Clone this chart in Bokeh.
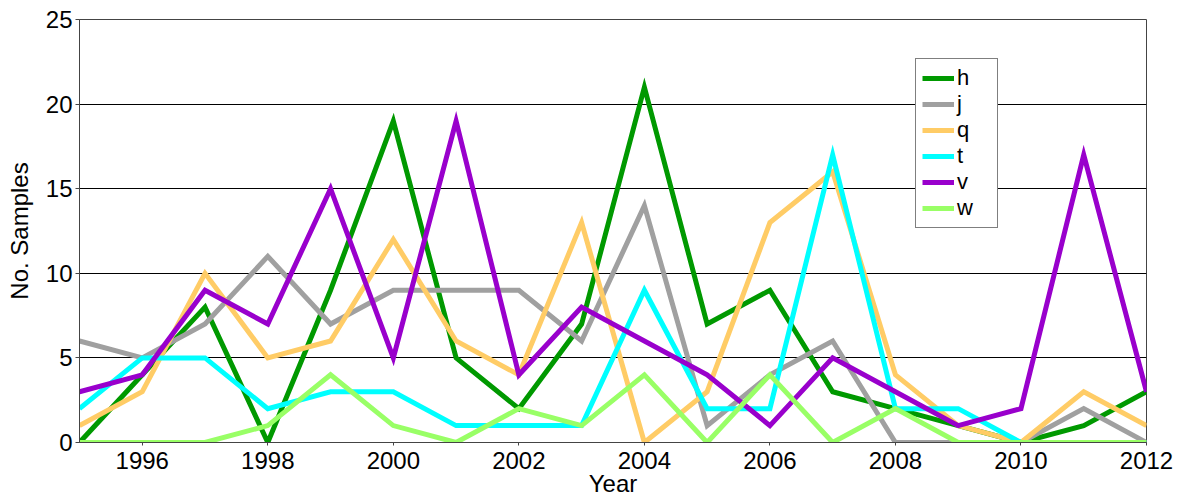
from bokeh.plotting import figure
from bokeh.models import Range1d, SingleIntervalTicker, Legend, LegendItem
from bokeh.embed import file_html
from bokeh.resources import INLINE

years = list(range(1995, 2013))
h = [0, 4, 8, 0, 9, 19, 5, 2, 7, 21, 7, 9, 3, 2, 1, 0, 1, 3]
j = [6, 5, 7, 11, 7, 9, 9, 9, 6, 14, 1, 4, 6, 0, 0, 0, 2, 0]
q = [1, 3, 10, 5, 6, 12, 6, 4, 13, 0, 3, 13, 16, 4, 1, 0, 3, 1]
t = [2, 5, 5, 2, 3, 3, 1, 1, 1, 9, 2, 2, 17, 2, 2, 0, 0, 0]
v = [3, 4, 9, 7, 15, 5, 19, 4, 8, 6, 4, 1, 5, 3, 1, 2, 17, 3]
w = [0, 0, 0, 1, 4, 1, 0, 2, 1, 4, 0, 4, 0, 2, 0, 0, 0, 0]
series_names = ["h", "j", "q", "t", "v", "w"]
series_values = [h, j, q, t, v, w]
colors = ["#009900", "#a0a0a0", "#ffcc66", "#00ffff", "#9900cc", "#99ff66"]

FONT = "Liberation Sans"

p = figure(width=1183, height=504, output_backend="svg", toolbar_location=None,
           x_range=Range1d(1995, 2012), y_range=Range1d(0, 25),
           min_border_left=79, min_border_right=37, min_border_top=19, min_border_bottom=62)
p.background_fill_color = "white"
p.outline_line_color = "#444444"
p.outline_line_width = 1

p.xaxis.ticker = SingleIntervalTicker(interval=2, num_minor_ticks=0)
p.yaxis.ticker = SingleIntervalTicker(interval=5, num_minor_ticks=0)
p.xgrid.grid_line_color = None
p.ygrid.grid_line_color = "black"
p.ygrid.grid_line_alpha = 1
p.ygrid.grid_line_width = 1

for ax in (p.xaxis, p.yaxis):
    ax.axis_line_color = "#444444"
    ax.major_tick_line_color = "#444444"
    ax.minor_tick_line_color = None
    ax.major_label_text_font = FONT
    ax.major_label_text_font_size = "24px"
    ax.major_label_text_color = "black"
    ax.axis_label_text_font = FONT
    ax.axis_label_text_font_size = "24px"
    ax.axis_label_text_font_style = "normal"
    ax.axis_label_text_color = "black"
p.xaxis.major_tick_out = 3
p.xaxis.major_tick_in = 0
p.yaxis.major_tick_out = 4
p.yaxis.major_tick_in = 0
p.xaxis.major_label_standoff = 6
p.yaxis.major_label_standoff = 3
p.xaxis.axis_label = "Year"
p.yaxis.axis_label = "No. Samples"
p.xaxis.axis_label_standoff = -2
p.yaxis.axis_label_standoff = 10

items = []
for name, vals, col in zip(series_names, series_values, colors):
    r = p.line(years, vals, line_color=col, line_width=5, line_join="miter")
    items.append(LegendItem(label=name, renderers=[r]))

legend = Legend(items=items, location=(836, 214))
legend.label_text_font = FONT
legend.label_text_font_size = "22px"
legend.label_text_color = "black"
legend.border_line_color = "black"
legend.border_line_width = 1
legend.background_fill_color = "white"
legend.background_fill_alpha = 1
legend.glyph_width = 32
legend.glyph_height = 24
legend.label_height = 24
legend.label_width = 34
legend.spacing = 0
legend.padding = 6
legend.margin = 0
legend.label_standoff = 3
legend.label_text_line_height = 1.0
p.add_layout(legend, "center")

open("out.html", "w").write(file_html(p, INLINE))
